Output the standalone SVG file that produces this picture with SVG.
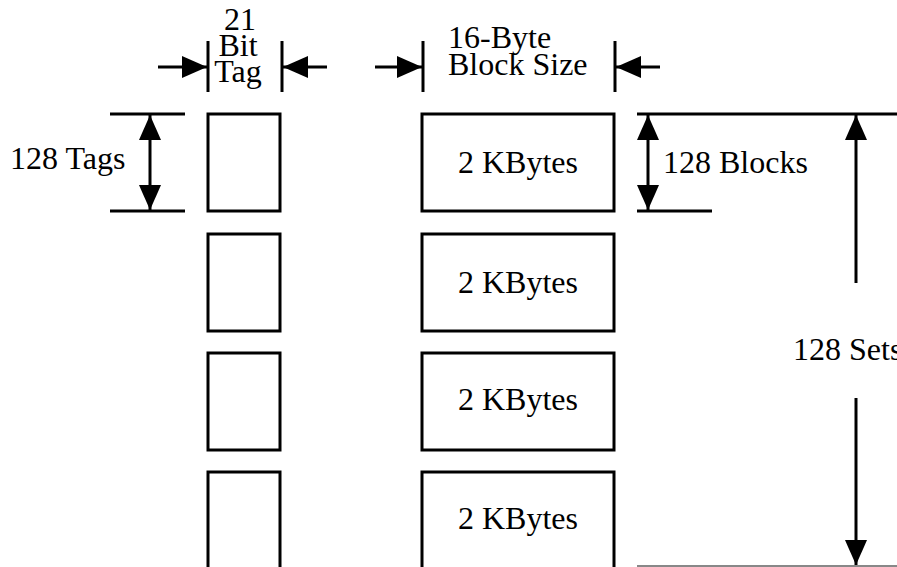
<svg xmlns="http://www.w3.org/2000/svg" width="897" height="567" viewBox="0 0 897 567">
  <defs>
    <marker id="head" markerUnits="userSpaceOnUse" markerWidth="26" markerHeight="22" refX="25" refY="11" orient="auto-start-reverse">
      <path d="M0,0 L25,11 L0,22 z" fill="#000"/>
    </marker>
  </defs>
  <style>
    .box { fill: #fff; stroke: #000; stroke-width: 3; }
    .ln { stroke: #000; stroke-width: 3; fill: none; }
    .dim { stroke: #000; stroke-width: 3; fill: none; marker-end: url(#head); }
    .dim2 { stroke: #000; stroke-width: 3; fill: none; marker-start: url(#head); marker-end: url(#head); }
    .t { font-family: "Liberation Serif", "Times New Roman", serif; font-size: 32px; fill: #000; }
    .c { text-anchor: middle; }
  </style>
  <rect width="897" height="567" fill="#fff"/>

  <!-- tag column -->
  <g id="tag1"><rect class="box" x="208" y="114" width="72" height="97"/></g>
  <g id="tag2"><rect class="box" x="208" y="234" width="72" height="97"/></g>
  <g id="tag3"><rect class="box" x="208" y="353" width="72" height="97"/></g>
  <g id="tag4"><rect class="box" x="208" y="472" width="72" height="97"/></g>

  <!-- data column -->
  <g id="set1"><rect class="box" x="422" y="114" width="192" height="97"/><text class="t c" x="518" y="173">2 KBytes</text></g>
  <g id="set2"><rect class="box" x="422" y="234" width="192" height="97"/><text class="t c" x="518" y="293">2 KBytes</text></g>
  <g id="set3"><rect class="box" x="422" y="353" width="192" height="97"/><text class="t c" x="518" y="410">2 KBytes</text></g>
  <g id="set4"><rect class="box" x="422" y="472" width="192" height="97"/><text class="t c" x="518" y="529">2 KBytes</text></g>

  <!-- dimension labels -->
  <g id="tag-width">
    <text class="t c" x="240" y="30">21</text>
    <text class="t c" x="238" y="56">Bit</text>
    <text class="t c" x="238" y="82">Tag</text>
  </g>
  <g id="block-width">
    <text class="t" x="448" y="48">16-Byte</text>
    <text class="t" x="448" y="75">Block Size</text>
  </g>
  <g id="tags-label"><text class="t" x="10" y="169">128 Tags</text></g>
  <g id="blocks-label"><text class="t" x="663" y="173">128 Blocks</text></g>
  <g id="sets-label"><text class="t" x="793" y="360">128 Sets</text></g>

  <!-- dimension lines and arrows -->
  <g id="connectors">
    <line class="ln" x1="208" y1="41" x2="208" y2="92"/>
    <line class="ln" x1="282" y1="41" x2="282" y2="92"/>
    <line class="dim" x1="158" y1="67" x2="207" y2="67"/>
    <line class="dim" x1="327" y1="67" x2="283" y2="67"/>

    <line class="ln" x1="423" y1="41" x2="423" y2="92"/>
    <line class="ln" x1="615" y1="41" x2="615" y2="92"/>
    <line class="dim" x1="375" y1="67" x2="422" y2="67"/>
    <line class="dim" x1="660" y1="67" x2="616" y2="67"/>

    <line class="ln" x1="110" y1="114" x2="185" y2="114"/>
    <line class="ln" x1="110" y1="211" x2="185" y2="211"/>
    <line class="dim2" x1="150" y1="115" x2="150" y2="210"/>

    <line class="ln" x1="637" y1="114" x2="897" y2="114"/>
    <line class="ln" x1="637" y1="211" x2="712" y2="211"/>
    <line class="dim2" x1="648" y1="115" x2="648" y2="210"/>

    <line class="dim" x1="856" y1="283" x2="856" y2="115"/>
    <line class="dim" x1="856" y1="398" x2="856" y2="565"/>
    <line stroke="#888" stroke-width="2" x1="637" y1="566" x2="897" y2="566"/>
  </g>
</svg>
